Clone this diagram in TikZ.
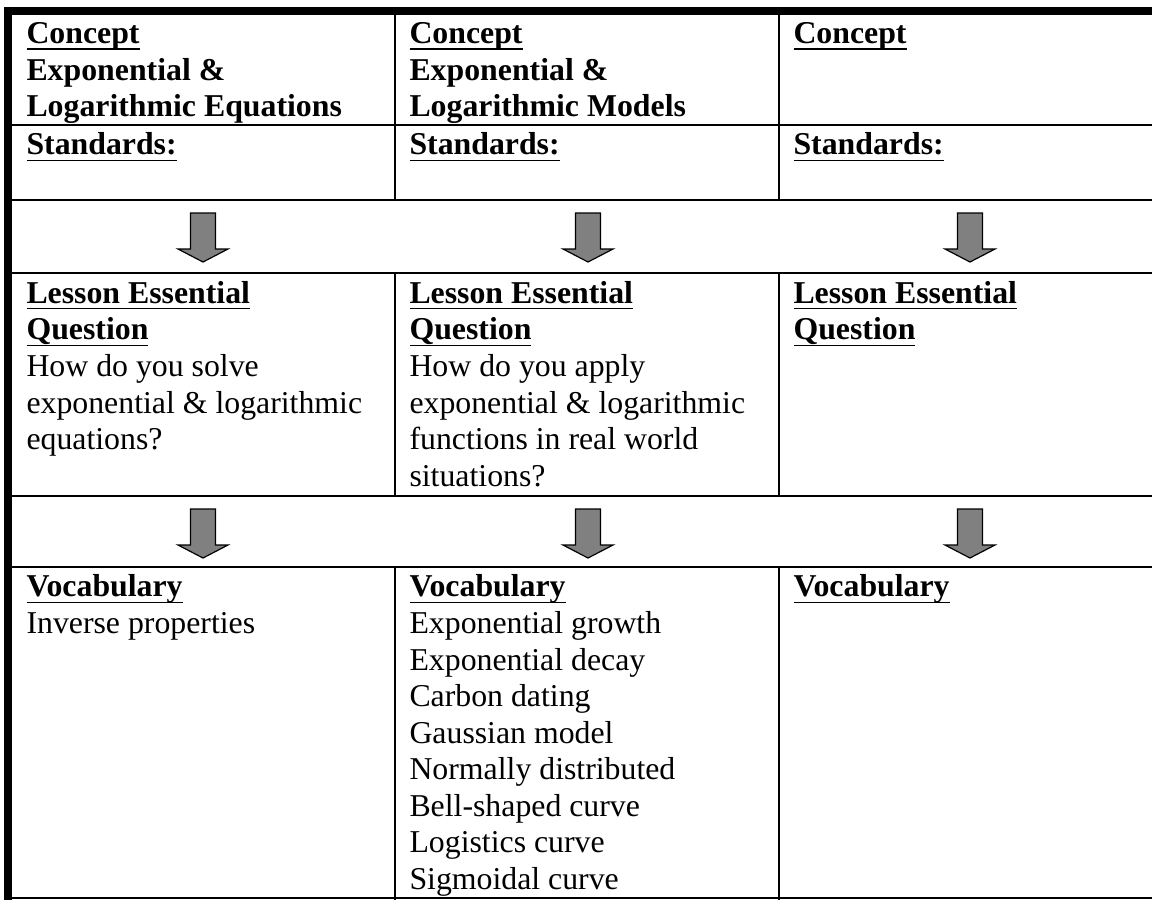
\documentclass[tikz,border=0pt]{standalone}
\usepackage{fontspec}
\setmainfont{Liberation Serif}
\newsavebox\ulbox
\newcommand\myul[1]{\sbox\ulbox{#1}\rlap{\rule[-2.3pt]{\wd\ulbox}{0.55pt}}\usebox\ulbox}
\newcommand\mystrut{\rule{0pt}{10.7pt}}
\begin{document}
\begin{tikzpicture}[x=0.3774pt,y=-0.3774pt,
  cell/.style={anchor=north west, inner sep=0pt, align=left,
    font=\fontsize{12pt}{13.8pt}\selectfont},
  rule/.style={line width=0.75pt},
  thick border/.style={fill=black},
  blockarrow/.style={fill=gray, draw=black, line width=0.45pt, line join=miter},
  downarrow/.pic={\draw[blockarrow] (-12.5,0) -- (12.5,0) -- (12.5,36) -- (25,36)
      -- (0,49) -- (-25,36) -- (-12.5,36) -- cycle;}]
\useasboundingbox (0,0) rectangle (1152,900);
\fill[white] (0,0) rectangle (1152,900);

% thick outer border (top and left)
\fill[thick border] (4,7) rectangle (1152,14.5);
\fill[thick border] (4,7) rectangle (12.3,900);

% horizontal rules
\foreach \yy in {125,200,273,496,567,898}
  \draw[rule] (12,\yy) -- (1152,\yy);
% vertical rules
\foreach \xx in {395,779} {
  \draw[rule] (\xx,14) -- (\xx,200);
  \draw[rule] (\xx,273) -- (\xx,496);
  \draw[rule] (\xx,567) -- (\xx,900);
}

% row 1: concept
\node[cell] (concept1) at (26,14.7) {\mystrut\textbf{\myul{Concept}}\\
  \textbf{Exponential \&}\\ \textbf{Logarithmic Equations}};
\node[cell] (concept2) at (409,14.7) {\mystrut\textbf{\myul{Concept}}\\
  \textbf{Exponential \&}\\ \textbf{Logarithmic Models}};
\node[cell] (concept3) at (793,14.7) {\mystrut\textbf{\myul{Concept}}};

% row 2: standards
\node[cell] (std1) at (26,126) {\mystrut\textbf{\myul{Standards:}}};
\node[cell] (std2) at (409,126) {\mystrut\textbf{\myul{Standards:}}};
\node[cell] (std3) at (793,126) {\mystrut\textbf{\myul{Standards:}}};

% arrows row 1
\coordinate (a1) at (203,213);
\coordinate (a2) at (588,213);
\coordinate (a3) at (970,213);
\foreach \a in {a1,a2,a3} \pic at (\a) {downarrow};

% row 3: lesson essential question
\node[cell] (leq1) at (26,274.5) {\mystrut\textbf{\myul{Lesson Essential}}\\
  \textbf{\myul{Question}}\\ How do you solve\\ exponential \& logarithmic\\ equations?};
\node[cell] (leq2) at (409,274.5) {\mystrut\textbf{\myul{Lesson Essential}}\\
  \textbf{\myul{Question}}\\ How do you apply\\ exponential \& logarithmic\\
  functions in real world\\ situations?};
\node[cell] (leq3) at (793,274.5) {\mystrut\textbf{\myul{Lesson Essential}}\\
  \textbf{\myul{Question}}};

% arrows row 2
\coordinate (b1) at (203,509);
\coordinate (b2) at (588,509);
\coordinate (b3) at (970,509);
\foreach \a in {b1,b2,b3} \pic at (\a) {downarrow};

% row 4: vocabulary
\node[cell] (voc1) at (26,568) {\mystrut\textbf{\myul{Vocabulary}}\\ Inverse properties};
\node[cell] (voc2) at (409,568) {\mystrut\textbf{\myul{Vocabulary}}\\
  Exponential growth\\ Exponential decay\\ Carbon dating\\ Gaussian model\\
  Normally distributed\\ Bell-shaped curve\\ Logistics curve\\ Sigmoidal curve};
\node[cell] (voc3) at (793,568) {\mystrut\textbf{\myul{Vocabulary}}};
\end{tikzpicture}
\end{document}
